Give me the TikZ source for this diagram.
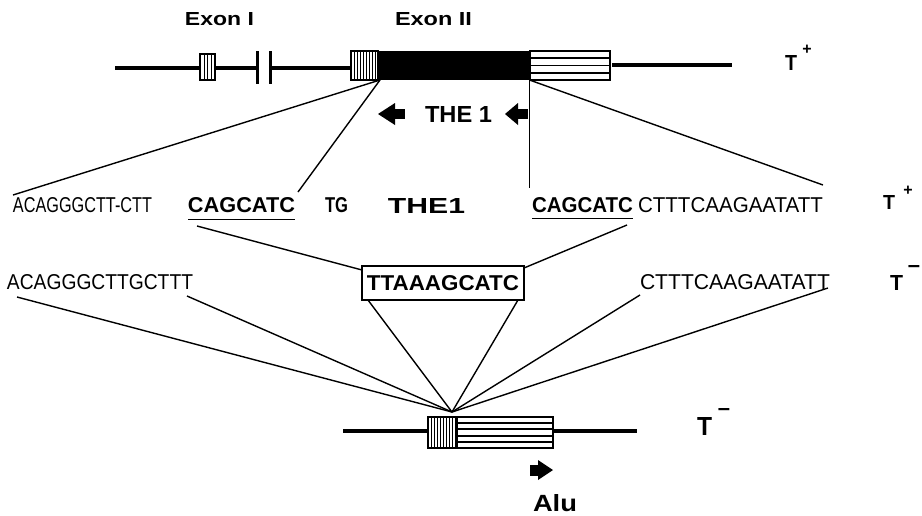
\documentclass[tikz,border=0pt]{standalone}
\usepackage{fontspec}
\setmainfont{Liberation Sans}
\usepackage{graphicx}
\newcommand{\fitto}[3]{\resizebox{#1pt}{#2pt}{\fontsize{20}{20}\selectfont #3}}
\begin{document}
\begin{tikzpicture}[x=1pt,y=-1pt,
  txt/.style={inner sep=0pt, outer sep=0pt, anchor=center},
  sup/.style={inner sep=0pt, outer sep=0pt, anchor=center, font=\fontsize{16}{16}\selectfont\bfseries},
  minus/.style={inner sep=0pt, outer sep=0pt, anchor=center, font=\fontsize{22}{22}\selectfont\bfseries},
  gene/.style={line width=4pt},
  thin/.style={line width=1.4pt},
  boxline/.style={line width=1.3pt},
  stripe/.style={line width=0.9pt}]
\useasboundingbox[fill=white] (0,0) rectangle (922,515);

% ---------- top genomic map ----------
\draw[gene] (115,68) -- (200,68);
\draw[gene] (215,68) -- (257,68);
\draw[gene] (270,68) -- (351,68);
\draw[line width=3pt] (257,51) -- (257,84);
\draw[line width=3pt] (270,51) -- (270,84);
% exon I
\draw[boxline, fill=white] (200,54) rectangle (215,80);
\foreach \xx in {204,207.5,211} \draw[stripe] (\xx,54) -- (\xx,80);
% exon II
\fill[black] (378,51) rectangle (530,80);
\draw[boxline, fill=white] (351,51) rectangle (378,80);
\foreach \xx in {354,357,360,363,366,369,372,375} \draw[stripe] (\xx,51) -- (\xx,80);
\draw[boxline, fill=white] (530,51) rectangle (610,80);
\foreach \yy in {58,65.5,73} \draw[line width=1.3pt] (530,\yy) -- (610,\yy);
\draw[gene] (612,65) -- (732,65);

\node[txt] (exonI) at (219.5,19.5) {\fitto{69}{13}{\bfseries Exon I}};
\node[txt] (exonII) at (433.5,19.5) {\fitto{77}{13}{\bfseries Exon II}};
\node[txt] (Ttop) at (791,62.5) {\fitto{12}{15}{\bfseries T}};
\node[sup] (Ttopsup) at (807,50) {+};

% THE 1 arrows
\fill (378,114) -- (395,103) -- (395,125) -- cycle;
\fill (395,108.5) rectangle (405,119);
\node[txt] (the1top) at (458.5,114) {\fitto{67}{16}{\bfseries THE 1}};
\fill (505,114) -- (518,103) -- (518,125) -- cycle;
\fill (518,108.5) rectangle (528,119);

% ---------- row 1 ----------
\node[txt] (r1left) at (82.5,205.5) {\fitto{139}{15}{ACAGGGCTT-CTT}};
\node[txt] (cag1) at (241.5,205.5) {\fitto{107}{15}{\bfseries CAGCATC}};
\node[txt] (tg) at (336.5,205.5) {\fitto{23}{15}{\bfseries TG}};
\node[txt] (the1) at (426.5,205.5) {\fitto{77}{15}{\bfseries THE1}};
\node[txt] (cag2) at (582.5,205.5) {\fitto{101}{15}{\bfseries CAGCATC}};
\node[txt] (r1right) at (730.5,205.5) {\fitto{185}{15}{CTTTCAAGAATATT}};
\node[txt] (Tp1) at (889,202) {\fitto{12}{14}{\bfseries T}};
\node[sup] (Tp1sup) at (908,191) {+};
\draw[line width=1.8pt] (188,219.5) -- (295,219.5);
\draw[line width=1.8pt] (532,218.5) -- (633,218.5);

% ---------- row 2 ----------
\node[txt] (r2left) at (100,282.5) {\fitto{186}{15}{ACAGGGCTTGCTTT}};
\node[draw, line width=1.4pt, inner xsep=5pt, inner ysep=9.5pt, outer sep=0pt] (junction) at (443,283) {\fitto{152}{15}{\bfseries TTAAAGCATC}};
\node[txt] (r2right) at (735,282.5) {\fitto{190}{15}{CTTTCAAGAATATT}};
\node[txt] (Tm2) at (896.5,282.5) {\fitto{13}{15}{\bfseries T}};
\node[minus] (Tm2sup) at (914,269) {\textendash};

% ---------- bottom map ----------
\draw[gene] (343,431) -- (637,431);
\draw[boxline, fill=white] (428,417) rectangle (553,448);
\foreach \xx in {431,434,437,440,443,446,449,452,455} \draw[stripe] (\xx,417) -- (\xx,448);
\draw[boxline] (457,417) -- (457,448);
\foreach \yy in {423,429,436,442} \draw[line width=1.1pt] (457,\yy) -- (553,\yy);
\node[txt] (Tbot) at (704.5,426) {\fitto{15}{18}{\bfseries T}};
\node[minus] (Tbotsup) at (724,412) {\textendash};
\fill (530,465) rectangle (538,475.5);
\fill (553,470) -- (538,460) -- (538,480) -- cycle;
\node[txt] (alu) at (555,503.5) {\fitto{44}{17}{\bfseries Alu}};

% ---------- connector end points ----------
\coordinate (e2a) at (380,80);
\coordinate (e2b) at (529.5,80);
\coordinate (r1a) at (13,195);
\coordinate (r1b) at (298,192);
\coordinate (r1c) at (529.5,188);
\coordinate (r1d) at (823,185);
\coordinate (u1) at (197,226);
\coordinate (u2) at (627,225);
\coordinate (jl) at (362,270);
\coordinate (jr) at (524,268);
\coordinate (focus) at (452,412);
\coordinate (f1) at (17,297);
\coordinate (f2) at (187,296);
\coordinate (f3) at (368,300);
\coordinate (f4) at (518,300);
\coordinate (f5) at (640,295);
\coordinate (f6) at (828,288);

\draw[thin] (e2a) -- (r1a);
\draw[thin] (e2a) -- (r1b);
\draw[thin] (e2b) -- (r1c);
\draw[thin] (e2b) -- (r1d);
\draw[thin] (u1) -- (jl);
\draw[thin] (u2) -- (jr);
\foreach \p in {f1,f2,f3,f4,f5,f6} \draw[thin] (\p) -- (focus);
\end{tikzpicture}
\end{document}
